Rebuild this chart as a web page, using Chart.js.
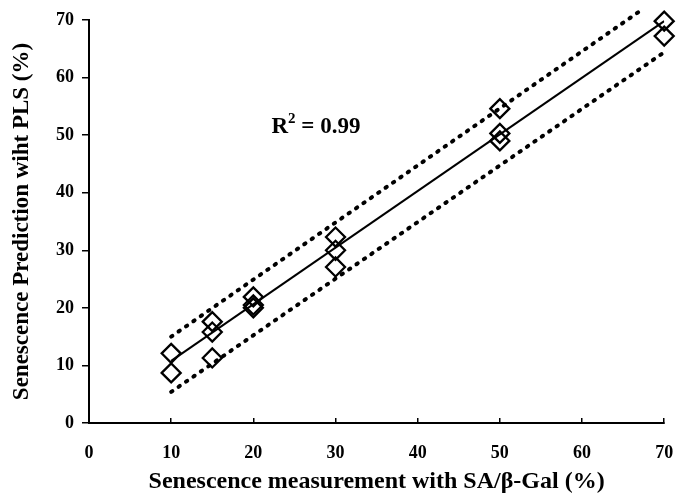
<!DOCTYPE html>
<html>
<head>
<meta charset="utf-8">
<script src="https://cdn.jsdelivr.net/npm/chart.js@4"></script>
<style>
    html, body { margin: 0; padding: 0; background: #fff; }
    #wrap { width: 676px; height: 500px; }
</style>
</head>
<body>
<div id="wrap"><canvas id="myChart" width="676" height="500"></canvas></div>
<script>
// measured values (SA/b-Gal) vs PLS prediction
const measured  = [10, 10, 15, 15, 15, 20, 20, 20, 30, 30, 30, 50, 50, 50, 70, 70];
const predicted = [12.1, 8.7, 17.6, 15.8, 11.3, 21.9, 20.5, 20, 32.3, 30, 27.1, 54.6, 50.3, 49, 69.8, 67.2];

// fit line and the two dotted bounds (end points)
const fitX   = [10, 70];
const fitY   = [10.8, 69.8];
const upperX = [10, 67];
const upperY = [15, 71.5];
const lowerX = [10, 70];
const lowerY = [5.4, 64.4];

const xTicks = [0, 10, 20, 30, 40, 50, 60, 70];
const yTicks = [0, 10, 20, 30, 40, 50, 60, 70];

const r2Label = { x: 22.2, y: 51.4, text: '0.99' };

const pairs = (xs, ys) => xs.map((x, i) => ({x: x, y: ys[i]}));
const serif = '"Liberation Serif", "DejaVu Serif", serif';

const r2Plugin = {
    id: 'r2',
    afterDatasetsDraw: chart => {
        const ctx = chart.ctx;
        const px = chart.scales.x.getPixelForValue(r2Label.x);
        const py = chart.scales.y.getPixelForValue(r2Label.y);
        ctx.save();
        ctx.fillStyle = '#000';
        ctx.textBaseline = 'middle';
        ctx.textAlign = 'left';
        ctx.font = 'bold 23px ' + serif;
        ctx.fillText('R', px, py);
        let w = ctx.measureText('R').width;
        ctx.font = 'bold 15px ' + serif;
        ctx.fillText('2', px + w, py - 8);
        w += ctx.measureText('2').width;
        ctx.font = 'bold 23px ' + serif;
        ctx.fillText(' = ' + r2Label.text, px + w, py);
        ctx.restore();
    }
};

const ctx = document.getElementById('myChart').getContext('2d');
const myChart = new Chart(ctx, {
    type: 'scatter',
    data: {
        datasets: [
            {
                data: pairs(measured, predicted),
                pointStyle: 'rectRot',
                pointRadius: 9.5,
                pointBorderWidth: 2.3,
                pointBorderColor: '#000',
                pointBackgroundColor: 'rgba(0,0,0,0)',
                showLine: false,
                clip: false
            },
            {
                data: pairs(fitX, fitY),
                showLine: true,
                borderColor: '#000',
                borderWidth: 2,
                pointRadius: 0
            },
            {
                data: pairs(upperX, upperY),
                showLine: true,
                borderColor: '#000',
                borderWidth: 4,
                borderDash: [1.5, 7.5],
                borderCapStyle: 'round',
                pointRadius: 0,
                clip: false
            },
            {
                data: pairs(lowerX, lowerY),
                showLine: true,
                borderColor: '#000',
                borderWidth: 4,
                borderDash: [1.5, 7.5],
                borderCapStyle: 'round',
                pointRadius: 0
            }
        ]
    },
    options: {
        responsive: false,
        animation: false,
        events: [],
        layout: { padding: { top: 20, right: 11, left: 0, bottom: 0 } },
        plugins: {
            legend: { display: false },
            tooltip: { enabled: false }
        },
        scales: {
            x: {
                type: 'linear',
                min: 0,
                max: 70,
                afterFit: scale => {
                    scale.height = 77;
                    scale.paddingLeft = 0;
                    scale.paddingRight = 0;
                },
                afterBuildTicks: scale => { scale.ticks = xTicks.map(v => ({value: v})); },
                border: { display: true, color: '#000', width: 2 },
                grid: { drawOnChartArea: false, color: '#000', lineWidth: 1.5, tickLength: -5 },
                ticks: { color: '#000', padding: 25, maxRotation: 0, font: { family: serif, size: 18, weight: 'bold' } },
                title: {
                    display: true,
                    text: 'Senescence measurement with SA/β-Gal (%)',
                    color: '#000',
                    padding: { top: 0, bottom: 4 },
                    font: { family: serif, size: 24, weight: 'bold' }
                }
            },
            y: {
                type: 'linear',
                min: 0,
                max: 70,
                afterFit: scale => {
                    scale.width = 89;
                    scale.paddingTop = 0;
                    scale.paddingBottom = 0;
                },
                afterBuildTicks: scale => { scale.ticks = yTicks.map(v => ({value: v})); },
                border: { display: true, color: '#000', width: 2 },
                grid: { drawOnChartArea: false, color: '#000', lineWidth: 1.5, tickLength: 7 },
                ticks: { color: '#000', padding: 8, font: { family: serif, size: 18, weight: 'bold' } },
                title: {
                    display: true,
                    text: 'Senescence Prediction wiht PLS (%)',
                    color: '#000',
                    padding: { top: 8, bottom: 0 },
                    font: { family: serif, size: 23, weight: 'bold' }
                }
            }
        }
    },
    plugins: [r2Plugin]
});
</script>
</body>
</html>
